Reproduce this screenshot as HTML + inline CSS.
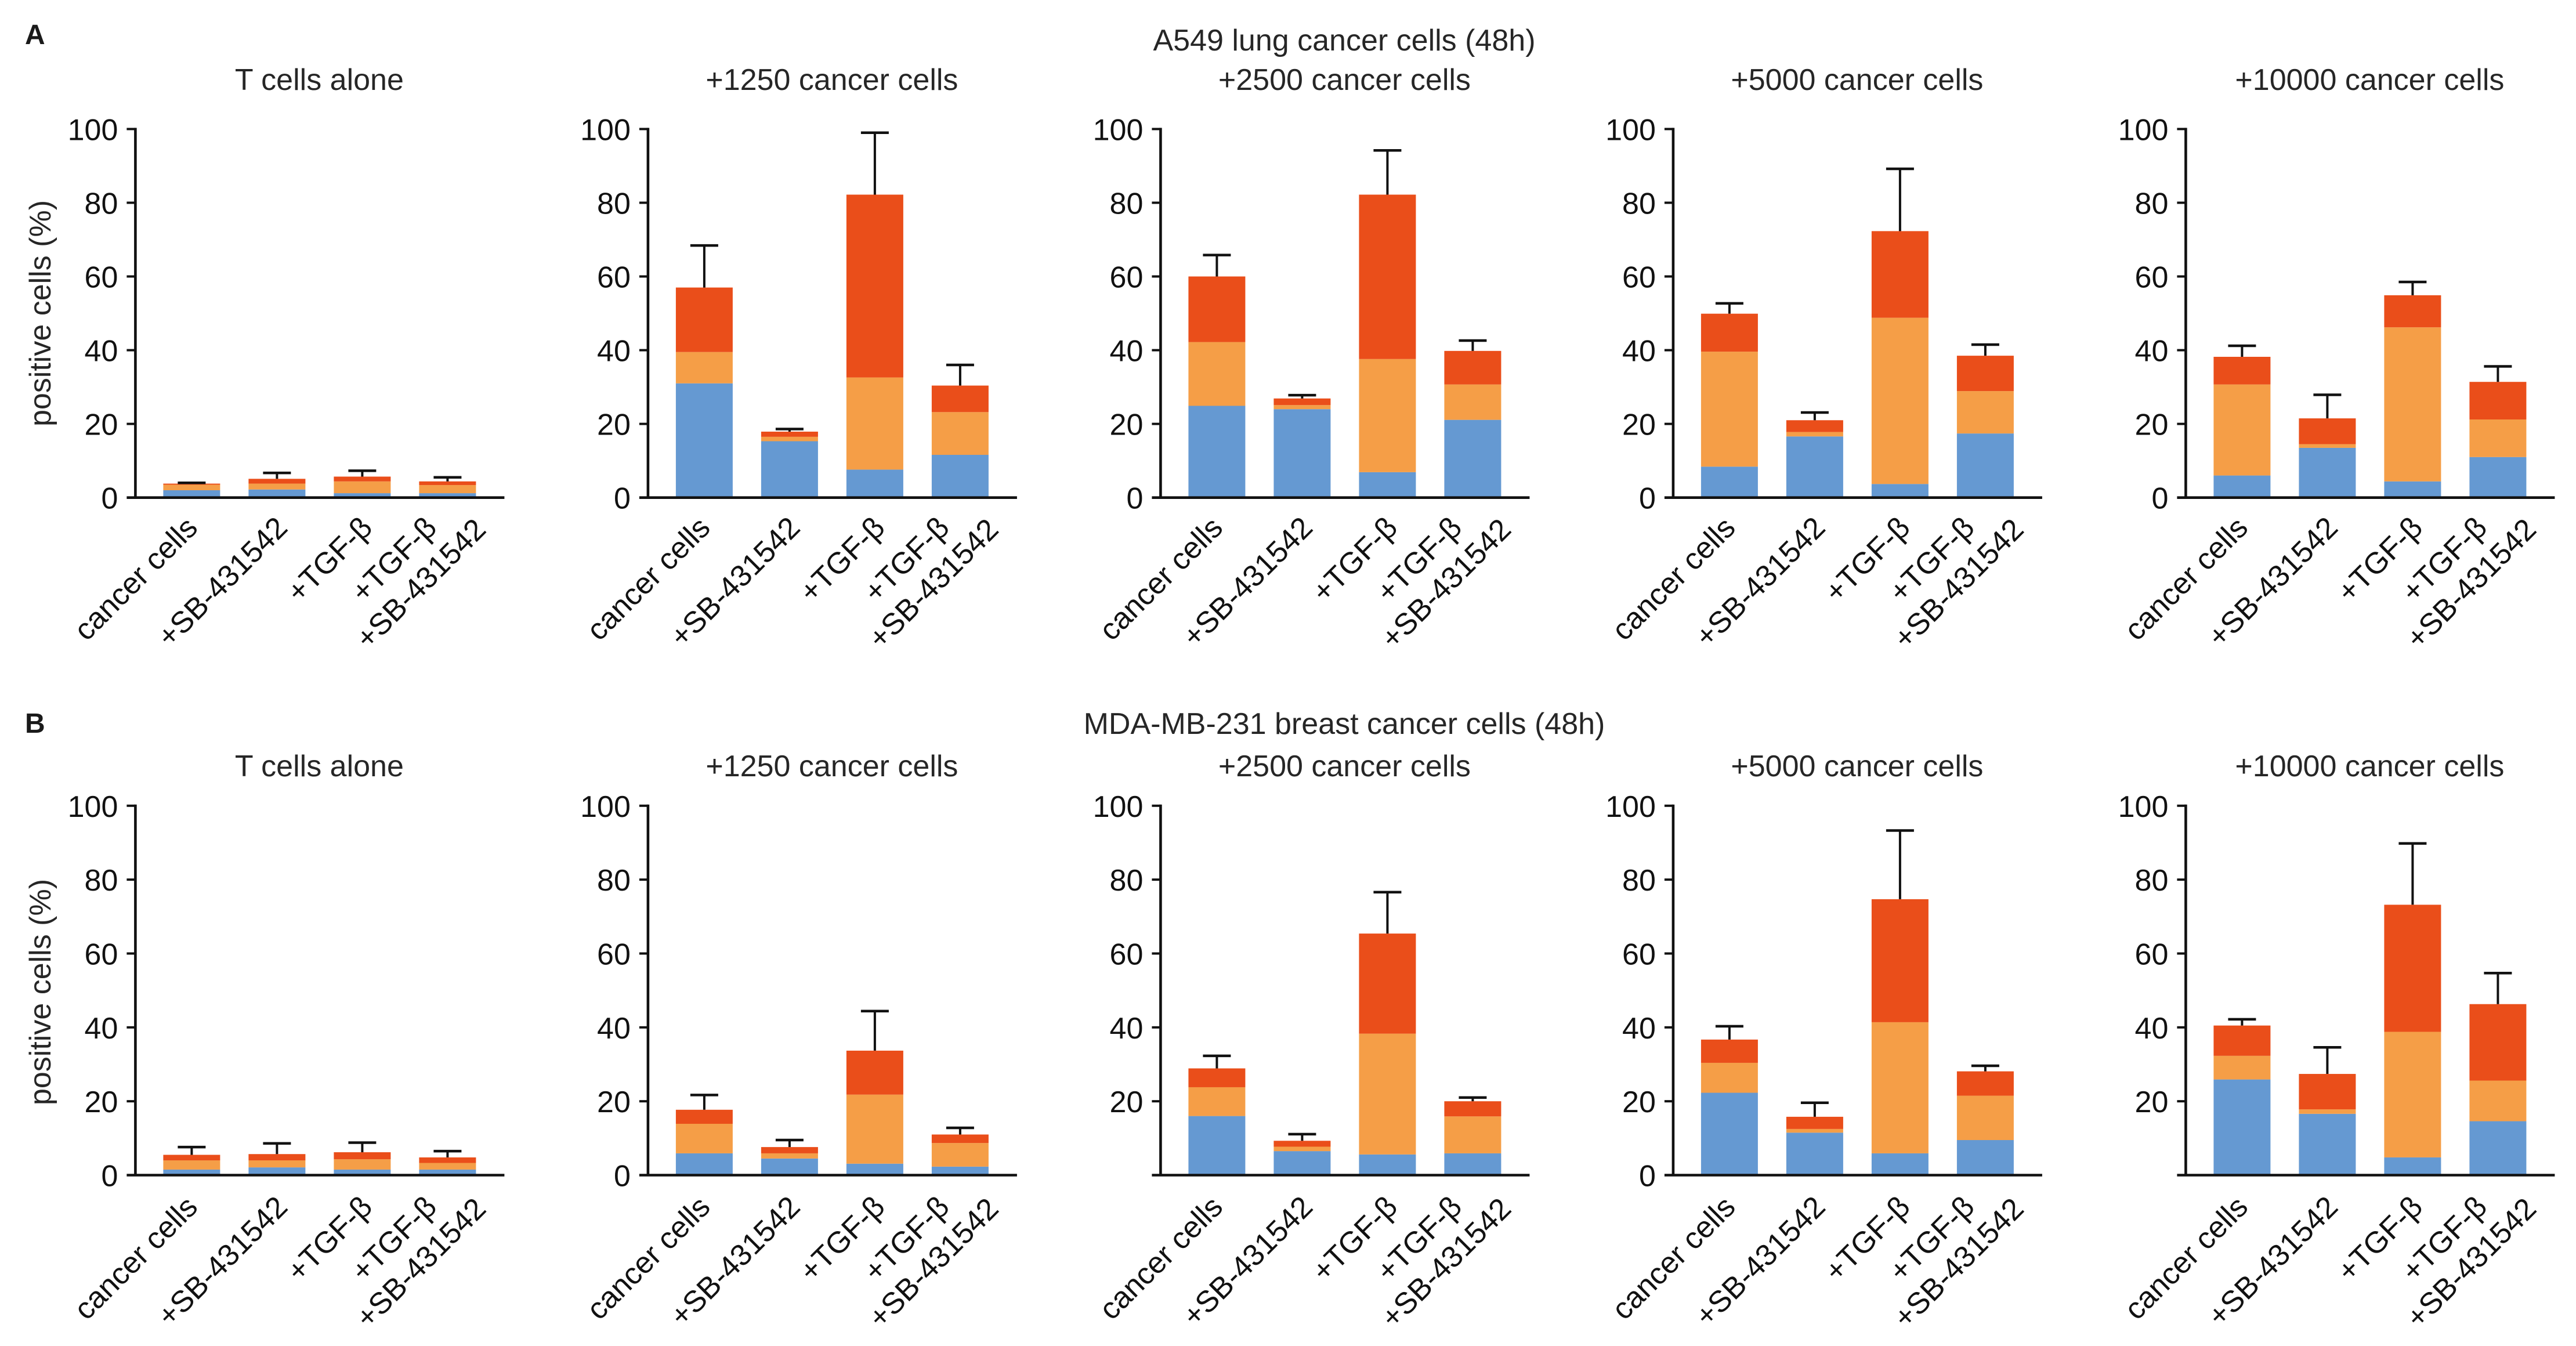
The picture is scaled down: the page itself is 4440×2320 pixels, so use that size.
<!DOCTYPE html>
<html lang="en">
<head>
<meta charset="utf-8">
<title>T cell marker-positive cells in co-culture with cancer cells</title>
<style>
  html, body { margin: 0; padding: 0; background: #fff; }
  body { width: 4440px; height: 2320px; overflow: hidden; }
  svg { display: block; font-family: "Liberation Sans", "DejaVu Sans", sans-serif; }
  .panel-title, .row-title, .y-title { font-size: 52px; fill: #262626; text-anchor: middle; }
  .tick-label { font-size: 52px; fill: #111; text-anchor: end; }
  .cat-label { font-size: 52px; fill: #111; text-anchor: end; }
  .letter { font-size: 48px; font-weight: bold; fill: #1a1a1a; }
</style>
</head>
<body>
<svg id="figure" xmlns="http://www.w3.org/2000/svg" width="4440" height="2320" viewBox="0 0 4440 2320">
  <rect x="0" y="0" width="4440" height="2320" fill="#ffffff"/>

  <text class="letter" x="43" y="76">A</text>
  <text class="letter" x="43" y="1263">B</text>

  <text class="row-title" x="2317" y="87">A549 lung cancer cells (48h)</text>
  <text class="row-title" x="2317" y="1265">MDA-MB-231 breast cancer cells (48h)</text>

  <text class="panel-title" x="550.4" y="155">T cells alone</text>
  <text class="panel-title" x="1433.9" y="155">+1250 cancer cells</text>
  <text class="panel-title" x="2317.4" y="155">+2500 cancer cells</text>
  <text class="panel-title" x="3200.9" y="155">+5000 cancer cells</text>
  <text class="panel-title" x="4084.4" y="155">+10000 cancer cells</text>

  <text class="panel-title" x="550.4" y="1338">T cells alone</text>
  <text class="panel-title" x="1433.9" y="1338">+1250 cancer cells</text>
  <text class="panel-title" x="2317.4" y="1338">+2500 cancer cells</text>
  <text class="panel-title" x="3200.9" y="1338">+5000 cancer cells</text>
  <text class="panel-title" x="4084.4" y="1338">+10000 cancer cells</text>

  <text class="y-title" transform="translate(87 540) rotate(-90)">positive cells (%)</text>
  <text class="y-title" transform="translate(87 1710) rotate(-90)">positive cells (%)</text>

  <g id="charts"></g>
</svg>

<script>
// Categories and tick labels
const categories = ["cancer cells", "+SB-431542", "+TGF-\u03B2", ["+TGF-\u03B2", "+SB-431542"]];
const yTicks = [0, 20, 40, 60, 80, 100];

// Row A: A549. Each inner array is one panel (T cells alone, +1250, +2500, +5000, +10000).
const blueA = [
  [2.0, 2.2, 1.2, 1.2],
  [31.0, 15.3, 7.6, 11.6],
  [24.9, 24.0, 6.9, 21.1],
  [8.4, 16.6, 3.7, 17.4],
  [6.0, 13.5, 4.4, 11.0]
];
const orangeA = [
  [1.5, 1.6, 3.2, 2.2],
  [8.5, 1.2, 25.0, 11.6],
  [17.3, 1.1, 30.7, 9.6],
  [31.2, 1.2, 45.1, 11.5],
  [24.7, 1.0, 41.8, 10.2]
];
const redA = [
  [0.3, 1.3, 1.3, 1.0],
  [17.5, 1.4, 49.6, 7.2],
  [17.8, 1.8, 44.6, 9.1],
  [10.3, 3.2, 23.5, 9.6],
  [7.5, 7.0, 8.7, 10.2]
];
const errorA = [
  [0.2, 1.6, 1.6, 1.1],
  [11.4, 0.7, 16.8, 5.6],
  [5.8, 0.9, 12.0, 2.8],
  [2.8, 2.1, 16.9, 3.0],
  [3.0, 6.4, 3.6, 4.2]
];

// Row B: MDA-MB-231
const blueB = [
  [1.5, 2.1, 1.5, 1.5],
  [5.9, 4.5, 3.1, 2.3],
  [16.0, 6.5, 5.6, 5.9],
  [22.3, 11.5, 5.9, 9.5],
  [25.9, 16.6, 4.8, 14.6]
];
const orangeB = [
  [2.5, 1.9, 2.8, 1.8],
  [8.0, 1.4, 18.7, 6.4],
  [7.8, 1.2, 32.7, 10.0],
  [8.1, 1.0, 35.5, 12.0],
  [6.4, 1.2, 34.0, 11.0]
];
const redB = [
  [1.5, 1.7, 1.9, 1.5],
  [3.8, 1.7, 11.9, 2.3],
  [5.1, 1.6, 27.1, 4.1],
  [6.3, 3.3, 33.3, 6.6],
  [8.2, 9.6, 34.4, 20.7]
];
const errorB = [
  [2.1, 2.9, 2.6, 1.7],
  [4.0, 1.9, 10.7, 1.8],
  [3.4, 1.8, 11.2, 1.0],
  [3.6, 3.8, 18.6, 1.5],
  [1.7, 7.2, 16.6, 8.4]
];

const SVG_NS = "http://www.w3.org/2000/svg";
const COLORS = { blue: "#6599D2", orange: "#F59E47", red: "#EA4E1A", line: "#111111" };
const root = document.getElementById("charts");

function make(tag, attrs, parent) {
  const node = document.createElementNS(SVG_NS, tag);
  for (const k in attrs) node.setAttribute(k, attrs[k]);
  parent.appendChild(node);
  return node;
}

// Axis functions
function panelLeft(p) { return 233.4 + p * 883.5; }
function barLeft(p, b) { return panelLeft(p) + 48 + b * 147; }
const BAR_W = 98;
function barCenter(p, b) { return barLeft(p, b) + BAR_W / 2; }
function yScale(row, v) { return row.base - v * (row.base - row.top) / 100; }

function drawPanel(row, p) {
  const tag = row.key + (p + 1);
  const g = make("g", {}, root);
  
  
  const axisX = panelLeft(p);

  // stacked bars + error bars
  for (let b = 0; b < categories.length; b++) {
    const segs = [
      ["blue", row.blue[p][b]],
      ["orange", row.orange[p][b]],
      ["red", row.red[p][b]]
    ];
    let cum = 0;
    segs.forEach(function (s) {
      const y0 = yScale(row, cum);
      const y1 = yScale(row, cum + s[1]);
      const r = make("rect", { x: barLeft(p, b), y: y1, width: BAR_W, height: y0 - y1, fill: COLORS[s[0]] }, g);
      
      
      cum += s[1];
    });
    const cx = barCenter(p, b);
    const errTop = yScale(row, cum + row.error[p][b]);
    const stem = make("line", { x1: cx, x2: cx, y1: yScale(row, cum), y2: errTop, stroke: COLORS.line, "stroke-width": 4 }, g);
    
    
    const cap = make("line", { x1: cx - 24, x2: cx + 24, y1: errTop, y2: errTop, stroke: COLORS.line, "stroke-width": 4.5 }, g);
    
    
  }

  // axes
  const yAxis = make("line", { x1: axisX, x2: axisX, y1: row.top - 2, y2: row.base, stroke: COLORS.line, "stroke-width": 4.6 }, g);
  
  
  const xAxis = make("line", { x1: axisX - 15, x2: axisX + 636, y1: row.base, y2: row.base, stroke: COLORS.line, "stroke-width": 4.6 }, g);
  
  

  // ticks
  yTicks.forEach(function (t) {
    const y = yScale(row, t);
    if (t !== 0) {
      const tick = make("line", { x1: axisX - 15, x2: axisX, y1: y, y2: y, stroke: COLORS.line, "stroke-width": 4 }, g);
      
      
    }
    if (t === 0 && row.noZeroLabel.indexOf(p) !== -1) return;
    const label = make("text", { x: axisX - 30, y: y + 19, "class": "tick-label" }, g);
    label.textContent = String(t);
    
    
  });

  // rotated category labels
  const nudge = [13, 21, 20, -16];
  const line2Nudge = 69;
  categories.forEach(function (c, b) {
    const lines = Array.isArray(c) ? c : [c];
    lines.forEach(function (text, i) {
      const x = barCenter(p, b) + (i === 0 ? nudge[b] : line2Nudge);
      const y = row.base + row.labelDrop + (i === 0 ? 0 : 3);
      const label = make("text", { x: x, y: y, "class": "cat-label", transform: "rotate(-45 " + x + " " + y + ")" }, g);
      label.textContent = text;
      
      
    });
  });
}

const rows = [
  { key: "a", top: 222.4, base: 857.7, labelDrop: 55, blue: blueA, orange: orangeA, red: redA, error: errorA, noZeroLabel: [] },
  { key: "b", top: 1388.8, base: 2025.5, labelDrop: 58, blue: blueB, orange: orangeB, red: redB, error: errorB, noZeroLabel: [2, 4] }
];
rows.forEach(function (row) {
  for (let p = 0; p < row.blue.length; p++) drawPanel(row, p);
});
</script>
</body>
</html>
